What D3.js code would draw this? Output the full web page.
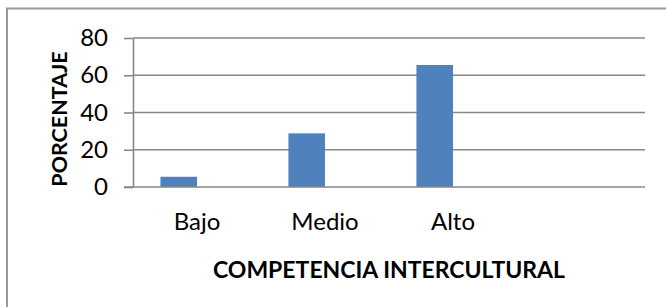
<!DOCTYPE html>
<html>
<head>
<meta charset="utf-8">
<script src="https://cdn.jsdelivr.net/npm/d3@7"></script>
<style>
    body { margin: 0; background: #fff; }
    svg { display: block; font-family: Lato, "Open Sans", sans-serif; }
    .grid line { stroke: #878787; stroke-width: 1.6; }
    .axis { font-family: Lato, "Open Sans", sans-serif; }
    .axis path, .axis line { stroke: #878787; stroke-width: 1.6; }
    .axis text { fill: #000; }
</style>
</head>
<body>
<svg id="chart" width="666" height="307"></svg>
<script>
// Chart data
const categories = ["Bajo", "Medio", "Alto", ""];
const seriesNames = ["Serie 1", "Serie 2"];
const serie1 = [5.5, 28.8, 65.5, null];
const serie2 = [null, null, null, null];
const yTicks = [0, 20, 40, 60, 80];

const width = 666;
const height = 307;
const margin = { top: 38, right: 21, bottom: 120, left: 133 };

const svg = d3.select("#chart");

// Outer frame (only top and left edge fall inside the picture)
svg.append("rect")
    .attr("x", 7)
    .attr("y", 8.5)
    .attr("width", width)
    .attr("height", height)
    .attr("fill", "none")
    .attr("stroke", "#999")
    .attr("stroke-width", 2);

// Scales
const x = d3.scaleBand()
    .domain(categories)
    .range([margin.left, width - margin.right])
    .padding(0);

const xSeries = d3.scaleBand()
    .domain(seriesNames)
    .range([0, x.bandwidth()])
    .paddingInner(0)
    .paddingOuter(0.75);

const y = d3.scaleLinear()
    .domain([0, 80])
    .range([height - margin.bottom, margin.top]);

// Gridlines
svg.append("g")
    .attr("class", "grid")
    .selectAll("line")
    .data(yTicks.filter(d => d > 0))
    .enter().append("line")
    .attr("x1", margin.left)
    .attr("x2", width - margin.right)
    .attr("y1", d => y(d))
    .attr("y2", d => y(d));

// Bars
const rows = categories.map((c, i) => ({ cat: c, values: [serie1[i], serie2[i]] }));

svg.append("g")
    .selectAll("g")
    .data(rows)
    .enter().append("g")
    .attr("transform", d => `translate(${x(d.cat)},0)`)
    .selectAll("rect")
    .data(d => d.values.map((v, j) => ({ name: seriesNames[j], value: v })).filter(d => d.value != null))
    .enter().append("rect")
    .attr("x", d => xSeries(d.name))
    .attr("width", xSeries.bandwidth())
    .attr("y", d => y(d.value))
    .attr("height", d => y(0) - y(d.value))
    .attr("fill", "#4F81BD");

// Y axis
const yAxis = svg.append("g")
    .attr("class", "axis")
    .attr("transform", `translate(${margin.left},0)`)
    .call(d3.axisLeft(y).tickValues(yTicks).tickSize(9).tickPadding(16).tickSizeOuter(0));
yAxis.selectAll("text").style("font-size", "24px");

// X axis
const xAxis = svg.append("g")
    .attr("class", "axis")
    .attr("transform", `translate(0,${y(0)})`)
    .call(d3.axisBottom(x).tickSize(0).tickSizeOuter(0));
xAxis.select(".domain").attr("d", `M${margin.left - 9},0H${width - margin.right}`);
xAxis.selectAll("text")
    .attr("y", 43)
    .attr("dy", null)
    .style("font-size", "24px");

// Axis titles
svg.append("text")
    .attr("x", (margin.left + width - margin.right) / 2)
    .attr("y", 278)
    .attr("text-anchor", "middle")
    .style("font-size", "23px")
    .style("font-weight", "bold")
    .text("COMPETENCIA INTERCULTURAL");

svg.append("text")
    .attr("transform", `translate(67,${(52 + 186) / 2}) rotate(-90)`)
    .attr("text-anchor", "middle")
    .style("font-size", "21.5px")
    .style("font-weight", "bold")
    .text("PORCENTAJE");
</script>
</body>
</html>
